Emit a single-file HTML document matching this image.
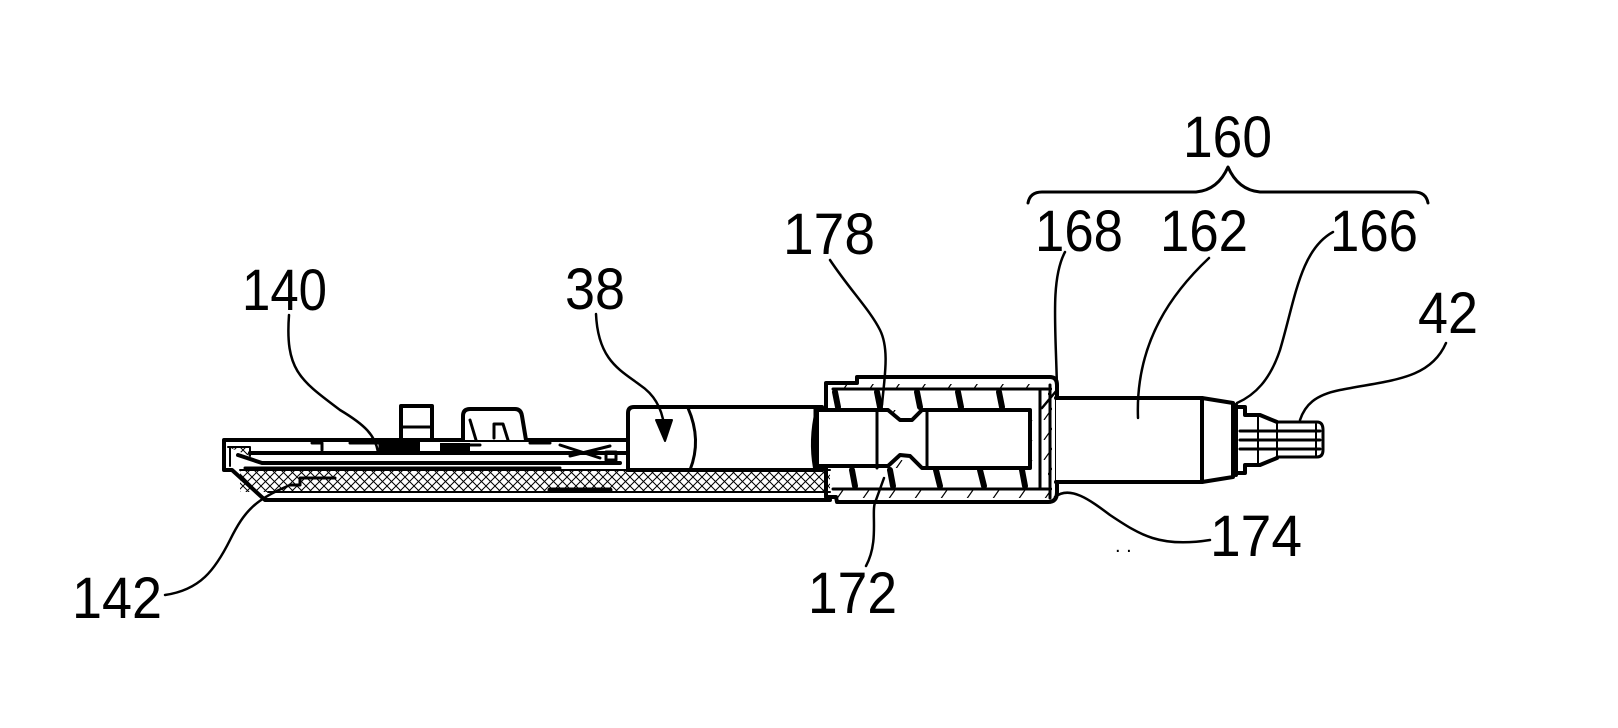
<!DOCTYPE html>
<html><head><meta charset="utf-8"><style>
html,body{margin:0;padding:0;background:#fff;width:1618px;height:728px;overflow:hidden}
svg{display:block}
text{font-family:"Liberation Sans",Arial,sans-serif;font-size:58px;fill:#000}
</style></head><body>
<svg width="1618" height="728" viewBox="0 0 1618 728" xmlns="http://www.w3.org/2000/svg">
<defs>
<pattern id="xh" width="9" height="9" patternUnits="userSpaceOnUse">
<path d="M0 0L9 9M9 0L0 9" stroke="#000" stroke-width="1"/>
</pattern>
<pattern id="dh" width="26" height="20" patternUnits="userSpaceOnUse">
<path d="M4 20L18 0" stroke="#000" stroke-width="1.2"/>
</pattern>
</defs>
<g fill="none" stroke="#000" stroke-linecap="round" stroke-linejoin="round">
<!-- housing -->
<rect x="240" y="470" width="590" height="22" fill="url(#xh)" stroke="none"/>
<path d="M224 440H630 M224 440V470H232L265 500H830" stroke-width="4"/>
<path d="M230 447V466 M228 447H250V456" stroke-width="2" fill="url(#xh)"/>
<path d="M240 470H830 M268 492H830" stroke-width="2"/>
<path d="M250 453H630" stroke-width="4"/>
<path d="M238 455L262 463H620" stroke-width="4"/>
<path d="M245 468H560" stroke-width="3"/>
<path d="M550 490H610" stroke-width="5"/>
<path d="M290 485H300V478H335" stroke-width="3"/>
<!-- components -->
<rect x="401" y="406" width="31" height="34" stroke-width="4" fill="#fff"/>
<path d="M401 427H432" stroke-width="3"/>
<path d="M463 440V416Q463 409 470 409H515Q521 409 522 416L526 440" stroke-width="4" fill="#fff"/>
<path d="M476 440L470 420M494 438V424H503L508 440" stroke-width="3"/>
<path d="M312 443H322V450M350 443H380V453M470 445H480M530 443H550M560 445L600 458M570 456L610 446" stroke-width="3"/>
<rect x="606" y="452" width="10" height="8" stroke-width="3"/>
<rect x="380" y="441" width="40" height="12" fill="#000" stroke="none"/>
<rect x="440" y="443" width="30" height="8" fill="#000" stroke="none"/>
<!-- cylinder 38 -->
<path d="M628 470V413Q628 407 634 407H822V470Z" stroke-width="4" fill="#fff"/>
<path d="M688 408Q702 440 690 470" stroke-width="3"/>
<path d="M815 408V470" stroke-width="3"/>
<!-- sleeve -->
<rect x="826" y="384" width="226" height="114" fill="url(#dh)" stroke="none"/>
<path d="M826 497V383H857V377H1050Q1057 377 1057 385V492Q1057 502 1048 502H837L836 497Z" stroke-width="4"/>
<rect x="833" y="389" width="215" height="21" fill="#fff" stroke="none"/>
<rect x="833" y="468" width="215" height="21" fill="#fff" stroke="none"/>
<path d="M833 389H1048 M833 489H1048" stroke-width="3"/>
<!-- coils -->
<g stroke-width="6">
<path d="M835 392L838 407M877 392L880 407M917 392L920 407M958 392L961 407M999 392L1002 407"/>
<path d="M852 470L855 486M890 470L893 486M936 470L940 486M980 470L984 486M1022 470L1025 486"/>
</g>
<!-- tube -->
<path d="M817 410H888L900 420L912 420L922 410H1030V468H922L910 456L900 455L888 466H817Z" stroke-width="4" fill="#fff"/>
<path d="M877 410V468M927 410V468M1030 410V468M1040 390V488M1050 385V498" stroke-width="3"/>
<path d="M817 410Q810 440 815 468" stroke-width="4"/>
<!-- body 162 -->
<path d="M1056 398H1202L1233 403V477L1202 482H1056" stroke-width="4" fill="#fff"/>
<path d="M1202 398V482" stroke-width="4"/>
<!-- nozzle 42 -->
<path d="M1236 405V475 M1236 407H1245V415H1260L1277 422 M1236 473H1245V465H1260L1277 458" stroke-width="4"/>
<path d="M1277 422H1317Q1323 422 1323 430V450Q1323 457 1317 457H1277 M1240 440H1320 M1240 431H1320M1240 449H1320" stroke-width="3"/>
<path d="M1258 415V465M1277 422V457M1316 424V456" stroke-width="2"/>
<!-- brace -->
<path d="M1028 203Q1030 192 1042 192H1196Q1218 190 1228 167Q1238 190 1260 192H1414Q1426 192 1428 203" stroke-width="3"/>
<!-- leaders -->
<g stroke-width="2.5">
<path d="M289 315C285 370 300 380 340 410C365 425 375 435 378 452"/>
<path d="M165 595C200 590 215 570 230 540C245 510 255 500 290 485"/>
<path d="M596 314C598 360 620 370 640 385C655 395 662 410 664 425"/>
<path d="M830 260C850 290 870 310 880 330C890 350 884 380 882 405"/>
<path d="M1065 252C1050 280 1056 330 1057 390L1042 408"/>
<path d="M1209 258C1175 290 1135 340 1138 418"/>
<path d="M1333 232C1300 250 1295 300 1280 350C1270 380 1255 395 1237 403"/>
<path d="M1446 343C1430 380 1390 380 1340 390C1315 395 1305 405 1300 420"/>
<path d="M866 566C880 540 870 510 876 500L884 478"/>
<path d="M1210 540C1160 548 1140 535 1110 515C1090 500 1070 485 1055 497"/>
</g>
<path d="M656 420L672 420L665 441Z" fill="#000" stroke="#000" stroke-width="2"/>
</g>
<g>
<text x="242" y="310" textLength="85" lengthAdjust="spacingAndGlyphs">140</text>
<text x="72" y="618" textLength="90" lengthAdjust="spacingAndGlyphs">142</text>
<text x="565" y="309" textLength="60" lengthAdjust="spacingAndGlyphs">38</text>
<text x="783" y="254" textLength="92" lengthAdjust="spacingAndGlyphs">178</text>
<text x="1183" y="157" textLength="89" lengthAdjust="spacingAndGlyphs">160</text>
<text x="1035" y="251" textLength="88" lengthAdjust="spacingAndGlyphs">168</text>
<text x="1160" y="251" textLength="88" lengthAdjust="spacingAndGlyphs">162</text>
<text x="1330" y="251" textLength="88" lengthAdjust="spacingAndGlyphs">166</text>
<text x="1418" y="333" textLength="60" lengthAdjust="spacingAndGlyphs">42</text>
<text x="808" y="613" textLength="89" lengthAdjust="spacingAndGlyphs">172</text>
<text x="1210" y="556" textLength="92" lengthAdjust="spacingAndGlyphs">174</text>
<text x="1115" y="552" style="font-size:20px">. .</text>
</g>
</svg>
</body></html>
